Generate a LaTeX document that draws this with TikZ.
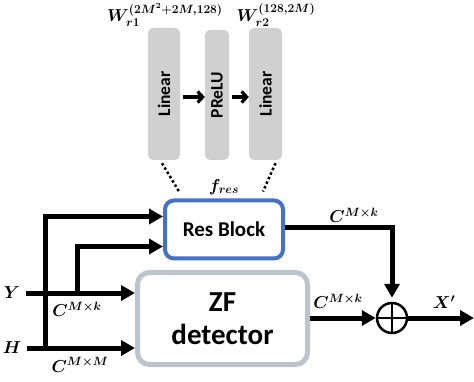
\documentclass[tikz,border=0pt]{standalone}
\usepackage{amsmath}
\usepackage{bm}
\usepackage{fontspec}
\setmainfont{Carlito}
\usetikzlibrary{arrows.meta,calc}
\definecolor{resblue}{HTML}{4472C4}
\definecolor{zfgray}{HTML}{BEC4CC}
\definecolor{layergray}{HTML}{D0D0D0}
\begin{document}
\begin{tikzpicture}[x=1pt,y=-1pt,
  layer/.style={fill=layergray, rounded corners=5pt, minimum width=#1, minimum height=132pt, inner sep=0pt},
  conn/.style={line width=5pt, -{Triangle[length=14pt,width=15pt]}},
  midarr/.style={line width=3.2pt, -{Straight Barb[length=5pt,width=11pt,line width=3.2pt]}},
  dotline/.style={line width=2.5pt, dash pattern=on 2.5pt off 2.5pt},
  lbl/.style={font=\fontsize{17}{17}\selectfont, inner sep=0pt}
]
\useasboundingbox (0,0) rectangle (474,382);

% layers
\node[layer=32pt] (lin1) at (164,94) {\rotatebox{90}{\fontsize{17.5}{17.5}\selectfont\bfseries Linear}};
\node[layer=24pt, minimum height=130pt] (prelu) at (217,95) {\rotatebox{90}{\fontsize{17.5}{17.5}\selectfont\bfseries PReLU}};
\node[layer=33pt] (lin2) at (265.5,94) {\rotatebox{90}{\fontsize{17.5}{17.5}\selectfont\bfseries Linear}};

\draw[midarr] ($(lin1.east)+(3,3)$) -- ($(prelu.west)+(0,2)$);
\draw[midarr] ($(prelu.east)+(3,2)$) -- ($(lin2.west)+(0,3)$);

\node[lbl] (w1) at (165,15) {$\bm{W_{r1}^{(2M^2+2M,128)}}$};
\node[lbl] (w2) at (276,15) {$\bm{W_{r2}^{(128,2M)}}$};

% blocks
\node[draw=resblue, line width=4pt, rounded corners=9pt, minimum width=118pt, minimum height=58pt, fill=white, inner sep=0pt] (res) at (224,229.5) {\fontsize{21}{21}\selectfont\bfseries Res Block};
\node[draw=zfgray, line width=5pt, rounded corners=12pt, minimum width=170pt, minimum height=92pt, align=center, inner sep=0pt, font=\fontsize{29}{33}\selectfont\bfseries] (zf) at (222.5,318.5) {ZF\\detector};

\draw[dotline] ($(lin1.south)+(-2,3)$) -- ($(res.north)+(-45,-7)$);
\draw[dotline] ($(lin2.south)+(10,3)$) -- ($(res.north)+(39,-7)$);
\node[lbl] (fres) at (224,187) {$\bm{f_{res}}$};

% sum
\node[circle, draw, line width=2.5pt, minimum size=30pt, inner sep=0pt, outer sep=1.25pt] (plus) at (392,318) {};
\draw[line width=2.2pt] ($(plus.center)+(0,-15)$) -- ($(plus.center)+(0,15)$);
\draw[line width=2.2pt] ($(plus.center)+(-15,0)$) -- ($(plus.center)+(15,0)$);

% inputs
\node[lbl] (Y) at (12,293) {$\bm{Y}$};
\node[lbl] (H) at (12,348) {$\bm{H}$};
\coordinate (j1) at (45,348);
\coordinate (j2) at (77,293);
\coordinate (xout) at (474,318);

\draw[conn] ($(Y.east)+(6,0)$) -- (Y -| zf.west);
\draw[conn] ($(H.east)+(6,0)$) -- (H -| zf.west);
\draw[conn] (j1) |- ($(res.west)+(0,-13)$);
\draw[conn] (j2) |- ($(res.west)+(0,17)$);

\draw[conn, shorten >=4pt] ($(res.east)+(0,-2)$) -| (plus.north);
\draw[conn] (zf.east |- plus) -- (plus.west);
\draw[conn] (plus.east) -- (xout);

% labels
\node[lbl] (c1) at (77,309) {$\bm{C^{M\times k}}$};
\node[lbl] (c2) at (80,365) {$\bm{C^{M\times M}}$};
\node[lbl] (c3) at (354,215) {$\bm{C^{M\times k}}$};
\node[lbl] (c4) at (338,301) {$\bm{C^{M\times k}}$};
\node[lbl] (xp) at (444,302) {$\bm{X'}$};
\end{tikzpicture}
\end{document}
